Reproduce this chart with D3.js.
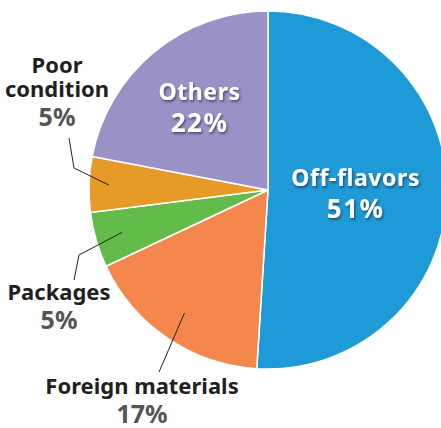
<!DOCTYPE html>
<meta charset="utf-8">
<script src="https://d3js.org/d3.v7.min.js"></script>
<style>
  body { margin: 0; background: #fff; }
  text { font-family: "Noto Sans", "Open Sans", sans-serif; font-weight: 700; }
</style>
<div id="chart"></div>
<script>
// data
const categories = ["Off-flavors", "Foreign materials", "Packages", "Poor condition", "Others"];
const values = [51, 17, 5, 5, 22];
const colors = ["#1e9ad6", "#f4874b", "#63bb4a", "#e69a27", "#9a92c6"];
// how each label is split into lines
const nameLines = [["Off-flavors"], ["Foreign materials"], ["Packages"], ["Poor", "condition"], ["Others"]];

const width = 441, height = 428;
const cx = 268, cy = 190, radius = 179;

const svg = d3.select("#chart")
  .append("svg")
  .attr("width", width)
  .attr("height", height);

const defs = svg.append("defs");
defs.append("filter")
    .attr("id", "shadow")
    .attr("x", "-20%").attr("y", "-20%")
    .attr("width", "140%").attr("height", "140%")
  .append("feDropShadow")
    .attr("dx", 1.2).attr("dy", 1.8)
    .attr("stdDeviation", 1)
    .attr("flood-color", "#1b2540")
    .attr("flood-opacity", 0.65);

const data = categories.map((c, i) => ({name: c, value: values[i], color: colors[i], lines: nameLines[i]}));

const pie = d3.pie().sort(null).value(d => d.value);
const arcs = pie(data);
const arc = d3.arc().innerRadius(0).outerRadius(radius);

const g = svg.append("g").attr("transform", `translate(${cx},${cy})`);

g.selectAll("path")
  .data(arcs)
  .join("path")
    .attr("d", arc)
    .attr("fill", d => d.data.color)
    .attr("stroke", "#fff")
    .attr("stroke-width", 1.5);

// polar helper (angle in d3.pie convention: 0 at top, clockwise)
const polar = (a, r) => [r * Math.sin(a), -r * Math.cos(a)];
const mid = d => (d.startAngle + d.endAngle) / 2;

// labels inside the big slices
const inside = {0: 0.49, 4: 0.6};
Object.entries(inside).forEach(([i, k]) => {
  const d = arcs[+i];
  const [x, y] = polar(mid(d), radius * k);
  const t = g.append("text")
    .attr("text-anchor", "middle")
    .attr("fill", "#fff")
    .attr("filter", "url(#shadow)");
  t.append("tspan").attr("x", x).attr("y", y - 7).attr("font-size", 23)
    .attr("letter-spacing", 0.6).text(d.data.name);
  t.append("tspan").attr("x", x).attr("y", y + 25).attr("font-size", 26)
    .attr("letter-spacing", 1.5).text(d.data.value + "%");
});

// labels outside the small slices, with leader lines
// k: radius factor of the line start, elbow/end: offsets in px from chart centre, text: label centre
const outside = [
  {i: 1, k: 0.83, elbow: null, end: [-109, 182], text: [-126, 204]},
  {i: 2, k: 0.85, elbow: [-189, 65], end: [-194, 90], text: [-209, 110]},
  {i: 3, k: 0.89, elbow: [-194, -22], end: [-199, -52], text: [-211, -117]}
];

outside.forEach(o => {
  const d = arcs[o.i];
  const start = polar(mid(d), radius * o.k);
  const pts = [start];
  if (o.elbow) pts.push(o.elbow);
  pts.push(o.end);
  g.append("path")
    .attr("d", d3.line()(pts))
    .attr("fill", "none")
    .attr("stroke", "#222")
    .attr("stroke-width", 1);

  const t = g.append("text").attr("text-anchor", "middle");
  let y = o.text[1];
  d.data.lines.forEach((ln, j) => {
    t.append("tspan").attr("x", o.text[0]).attr("y", y)
      .attr("font-size", 22).attr("fill", "#231f20").text(ln);
    y += 24;
  });
  t.append("tspan").attr("x", o.text[0]).attr("y", y + 5)
    .attr("font-size", 25).attr("fill", "#555").text(d.data.value + "%");
});
</script>
